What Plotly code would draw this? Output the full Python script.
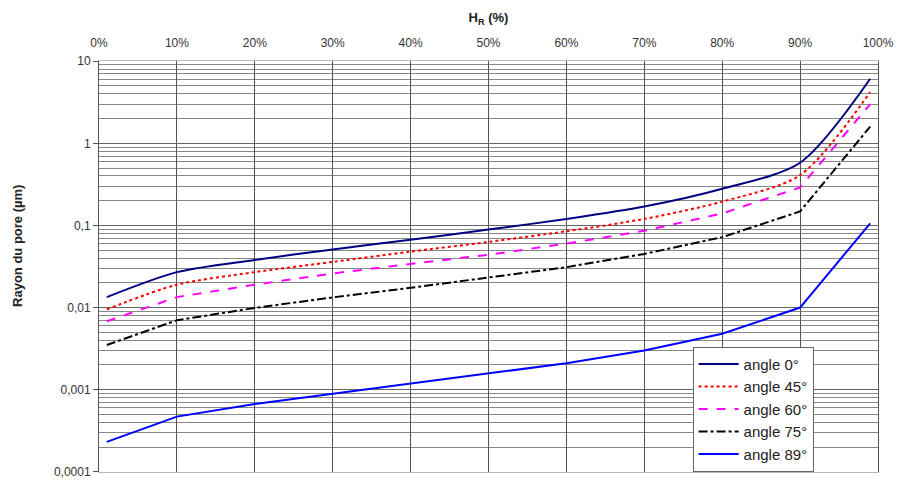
import plotly.graph_objects as go

# Relative humidity (%)
hr = [1, 10, 20, 30, 40, 50, 60, 70, 80, 90, 99]

# Pore radius (µm)
angle_0 = [0.0134, 0.027, 0.038, 0.051, 0.067, 0.089, 0.12, 0.17, 0.28, 0.58, 6.1]
angle_45 = [0.0095, 0.019, 0.027, 0.036, 0.048, 0.063, 0.085, 0.12, 0.195, 0.41, 4.2]
angle_60 = [0.0068, 0.0134, 0.019, 0.026, 0.034, 0.044, 0.06, 0.086, 0.14, 0.29, 3.0]
angle_75 = [0.0035, 0.0070, 0.0099, 0.0133, 0.0174, 0.023, 0.031, 0.045, 0.072, 0.148, 1.6]
angle_89 = [0.000232, 0.00047, 0.00067, 0.00089, 0.00118, 0.00155, 0.0021, 0.0030, 0.0048, 0.0100, 0.106]

x_ticks = [0, 10, 20, 30, 40, 50, 60, 70, 80, 90, 100]
x_labels = ["0%", "10%", "20%", "30%", "40%", "50%", "60%", "70%", "80%", "90%", "100%"]
y_ticks = [10, 1, 0.1, 0.01, 0.001, 0.0001]
y_labels = ["10", "1", "0,1", "0,01", "0,001", "0,0001"]

series = [
    ("angle 0°", angle_0, "#000080", "solid", "spline"),
    ("angle 45°", angle_45, "#FF0000", "dot", "spline"),
    ("angle 60°", angle_60, "#FF00FF", "dash", "linear"),
    ("angle 75°", angle_75, "#000000", "dashdot", "linear"),
    ("angle 89°", angle_89, "#0000FF", "solid", "linear"),
]

fig = go.Figure()
for name, vals, color, dash, shape in series:
    fig.add_trace(go.Scatter(
        x=hr, y=vals, name=name, mode="lines",
        line=dict(color=color, width=2, dash=dash, shape=shape, smoothing=0.8),
    ))

font_family = "Liberation Sans, Arial, sans-serif"
fig.update_layout(
    width=898, height=481,
    margin=dict(l=99, r=20, t=61, b=9, autoexpand=False),
    paper_bgcolor="white", plot_bgcolor="white",
    font=dict(family=font_family, size=12, color="#222"),
    xaxis=dict(
        side="top", range=[0, 100], tickvals=x_ticks, ticktext=x_labels,
        showgrid=True, gridcolor="#555", gridwidth=1,
        showline=True, linecolor="#bbb", mirror=True,
        ticks="", zeroline=False, ticklabelstandoff=8,
        ticklabeloverflow="allow",
        title=dict(text="<b>H<sub>R</sub> (%)</b>", font=dict(size=13), standoff=10),
        tickfont=dict(size=12, color="#333"),
    ),
    yaxis=dict(
        type="log", range=[-4.002, 1.002], tickvals=y_ticks, ticktext=y_labels,
        showgrid=True, gridcolor="#666", gridwidth=1,
        minor=dict(dtick="D1", showgrid=True, gridcolor="#888", gridwidth=1),
        showline=True, linecolor="#555", mirror=True,
        ticks="outside", ticklen=5, tickcolor="#555", zeroline=False,
        ticklabeloverflow="allow",
        tickfont=dict(size=12, color="#333"),
    ),
    annotations=[dict(
        text="<b>Rayon du pore (µm)</b>", xref="paper", yref="paper",
        x=-0.104, y=0.55, textangle=-90, showarrow=False,
        font=dict(size=13, color="#222"), xanchor="center", yanchor="middle",
    )],
    legend=dict(
        x=0.762, y=0.305, xanchor="left", yanchor="top",
        bgcolor="white", bordercolor="#666", borderwidth=1,
        font=dict(size=15, color="#222"), itemwidth=40,
    ),
)

fig.write_html("out.html")
